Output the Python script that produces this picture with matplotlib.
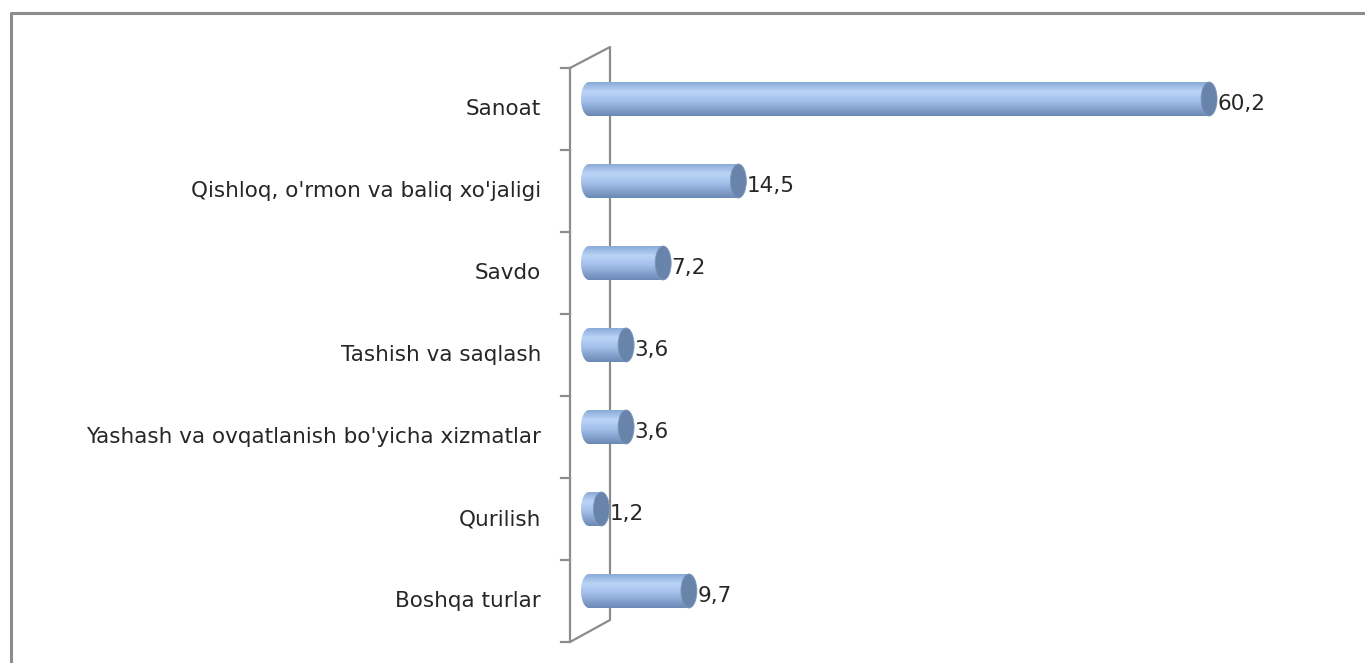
import numpy as np
import matplotlib
matplotlib.use("Agg")
import matplotlib.pyplot as plt
from matplotlib.colors import LinearSegmentedColormap
from matplotlib.patches import Ellipse, PathPatch
from matplotlib.path import Path

# data
categories = ["Sanoat", "Qishloq, o'rmon va baliq xo'jaligi", "Savdo",
              "Tashish va saqlash", "Yashash va ovqatlanish bo'yicha xizmatlar",
              "Qurilish", "Boshqa turlar"]
values = [60.2, 14.5, 7.2, 3.6, 3.6, 1.2, 9.7]
value_labels = ["60,2", "14,5", "7,2", "3,6", "3,6", "1,2", "9,7"]

W, H = 1365, 663
plt.rcParams['font.family'] = ['DejaVu Sans']
fig = plt.figure(figsize=(W / 100, H / 100), dpi=100)

# pixel-space background axes for frame and 3D walls
bg = fig.add_axes([0, 0, 1, 1])
bg.set_xlim(0, W)
bg.set_ylim(H, 0)
bg.axis('off')
grey = '#8c8c8c'
bg.plot([11, 11, W], [H, 13, 13], color=grey, lw=2.2, solid_capstyle='butt')
bg.plot([570, 570, 610, 610, 570], [68, 642, 620, 47, 68], color=grey, lw=1.6)
for k in range(len(categories) + 1):
    yk = 68 + 82 * k
    bg.plot([561, 570], [yk, yk], color=grey, lw=1.6)

# bar axes, value scale px per unit
px0, scale, step, top0 = 589, 10.3, 82, 99
L, R, T, B = 560, 1300, 30, 650
ax = fig.add_axes([L / W, (H - B) / H, (R - L) / W, (B - T) / H])
ax.patch.set_alpha(0)
ax.axis('off')

cmap = LinearSegmentedColormap.from_list('cyl', [
    (0.0, '#8aabd8'), (0.28, '#bbd4f7'), (0.55, '#a4c1eb'), (1.0, '#6b89b5')])
grad = np.linspace(0, 1, 100).reshape(-1, 1)
hh = 17 / step      # half height of cylinder
cw = 8 / scale      # half width of elliptic cap

t = np.linspace(np.pi / 2, 3 * np.pi / 2, 40)
for i, v in enumerate(values):
    verts = [(cw * np.cos(a), i - hh * np.sin(a)) for a in t]
    verts += [(v, i + hh), (v, i - hh), verts[0]]
    codes = [Path.MOVETO] + [Path.LINETO] * (len(verts) - 2) + [Path.CLOSEPOLY]
    clip = PathPatch(Path(verts, codes), transform=ax.transData, fc='none', ec='none')
    ax.add_patch(clip)
    im = ax.imshow(grad, cmap=cmap, aspect='auto', extent=(-cw, v, i + hh, i - hh),
                   origin='upper', zorder=2, interpolation='bilinear')
    im.set_clip_path(clip)
    ax.add_patch(Ellipse((v, i), 2 * cw, 2 * hh, fc='#6884ab', ec='#7d98be', lw=0.6, zorder=3))
    ax.text(v + cw + 0.05, i + 5 / step, value_labels[i], ha='left', va='center',
            fontsize=15.5, color='#262626', zorder=4)
    ax.text((541 - px0) / scale, i + 10 / step, categories[i], ha='right', va='center',
            fontsize=15.5, color='#262626')

ax.set_xlim((L - px0) / scale, (R - px0) / scale)
ax.set_ylim((B - top0) / step, (T - top0) / step)

fig.savefig('out.png', dpi=100)
